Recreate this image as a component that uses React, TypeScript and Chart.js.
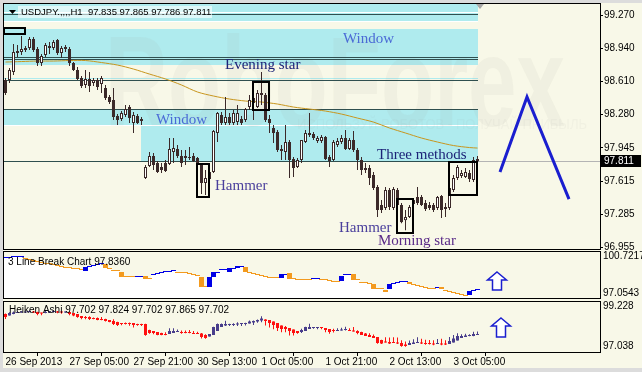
import React, { useEffect, useRef } from 'react';
import { Chart, registerables } from 'chart.js';

Chart.register(...registerables);

// ================= DATA =================
// USDJPY H1 candles (bar 0 = 26 Sep 2013 13:00)
const candleOpen = [
  98.623, 98.623, 98.702, 98.892, 98.902, 98.922, 98.942, 99.032, 98.932, 98.792,
  98.872, 98.942, 98.942, 99.022, 98.892, 98.932, 98.932, 98.792, 98.722, 98.643,
  98.573, 98.633, 98.593, 98.623, 98.583, 98.543, 98.453, 98.423, 98.263, 98.233,
  98.273, 98.353, 98.193, 98.263, 98.213, 97.645, 97.764, 97.864, 97.794, 97.754,
  97.794, 97.784, 97.904, 97.934, 97.864, 97.844, 97.844, 97.864, 97.844, 97.774,
  97.595, 97.635, 97.704, 98.094, 98.273, 98.193, 98.253, 98.193, 98.203, 98.233,
  98.223, 98.353, 98.393, 98.353, 98.473, 98.473, 98.233, 98.144, 98.104, 97.914,
  97.904, 98.004, 97.834, 97.754, 97.824, 98.004, 98.074, 98.084, 98.014, 98.014,
  98.054, 97.854, 97.824, 97.974, 98.004, 98.044, 97.934, 98.024, 97.924, 97.824,
  97.744, 97.744, 97.675, 97.555, 97.375, 97.345, 97.525, 97.345, 97.525, 97.375,
  97.225, 97.255, 97.385, 97.455, 97.455, 97.395, 97.375, 97.375, 97.345, 97.465,
  97.335, 97.345, 97.525, 97.645, 97.665, 97.655, 97.694, 97.625, 97.835,
];
const candleHigh = [
  98.643, 98.742, 98.982, 98.972, 99.062, 98.962, 99.052, 99.052, 98.952, 98.882,
  98.992, 99.002, 99.022, 99.032, 98.962, 98.972, 98.952, 98.802, 98.752, 98.662,
  98.722, 98.702, 98.643, 98.643, 98.662, 98.573, 98.473, 98.543, 98.283, 98.313,
  98.373, 98.373, 98.303, 98.283, 98.253, 97.774, 97.904, 97.894, 97.814, 97.794,
  97.824, 98.044, 98.044, 97.974, 97.924, 97.924, 97.954, 97.894, 97.854, 97.784,
  97.724, 97.724, 98.124, 98.303, 98.303, 98.453, 98.293, 98.323, 98.373, 98.263,
  98.343, 98.473, 98.473, 98.523, 98.702, 98.493, 98.273, 98.174, 98.124, 97.974,
  98.174, 98.024, 97.854, 97.844, 98.024, 98.124, 98.293, 98.104, 98.064, 98.074,
  98.064, 97.874, 98.024, 98.044, 98.074, 98.124, 98.044, 98.114, 97.944, 97.854,
  97.794, 97.774, 97.704, 97.575, 97.425, 97.555, 97.545, 97.555, 97.545, 97.395,
  97.325, 97.375, 97.445, 97.555, 97.475, 97.425, 97.405, 97.395, 97.465, 97.475,
  97.395, 97.565, 97.675, 97.774, 97.724, 97.744, 97.724, 97.854, 97.865,
];
const candleLow = [
  98.473, 98.593, 98.672, 98.852, 98.872, 98.902, 98.922, 98.902, 98.762, 98.762,
  98.852, 98.882, 98.922, 98.872, 98.842, 98.902, 98.762, 98.712, 98.623, 98.543,
  98.543, 98.503, 98.563, 98.523, 98.493, 98.423, 98.383, 98.223, 98.174, 98.213,
  98.253, 98.193, 98.094, 98.184, 98.174, 97.635, 97.754, 97.724, 97.694, 97.694,
  97.704, 97.774, 97.794, 97.844, 97.754, 97.774, 97.824, 97.804, 97.774, 97.485,
  97.475, 97.615, 97.694, 98.004, 98.174, 98.174, 98.174, 98.174, 98.174, 98.174,
  98.203, 98.323, 98.223, 98.343, 98.373, 98.203, 98.094, 97.994, 97.904, 97.824,
  97.824, 97.645, 97.655, 97.744, 97.794, 97.994, 98.054, 98.024, 97.994, 97.994,
  97.824, 97.754, 97.814, 97.954, 97.984, 97.924, 97.924, 97.904, 97.724, 97.675,
  97.694, 97.575, 97.525, 97.255, 97.295, 97.325, 97.325, 97.325, 97.335, 97.195,
  97.125, 97.245, 97.365, 97.375, 97.365, 97.315, 97.325, 97.305, 97.325, 97.245,
  97.255, 97.325, 97.505, 97.625, 97.645, 97.645, 97.605, 97.605, 97.786,
];
const candleClose = [
  98.493, 98.722, 98.902, 98.912, 98.932, 98.942, 99.032, 98.922, 98.792, 98.862,
  98.972, 98.962, 99.002, 98.892, 98.942, 98.952, 98.792, 98.722, 98.633, 98.563,
  98.633, 98.563, 98.623, 98.553, 98.643, 98.443, 98.403, 98.253, 98.223, 98.293,
  98.333, 98.243, 98.273, 98.193, 98.233, 97.754, 97.864, 97.774, 97.704, 97.724,
  97.714, 97.934, 97.944, 97.864, 97.794, 97.864, 97.854, 97.814, 97.794, 97.595,
  97.645, 97.704, 98.114, 98.293, 98.193, 98.253, 98.193, 98.293, 98.293, 98.193,
  98.333, 98.423, 98.443, 98.493, 98.493, 98.223, 98.193, 98.094, 97.924, 97.934,
  98.004, 97.824, 97.744, 97.824, 98.024, 98.094, 98.094, 98.044, 98.044, 98.054,
  97.834, 97.814, 98.004, 98.014, 98.044, 97.934, 98.024, 97.924, 97.824, 97.724,
  97.724, 97.645, 97.545, 97.325, 97.325, 97.525, 97.355, 97.535, 97.375, 97.205,
  97.255, 97.355, 97.425, 97.395, 97.375, 97.335, 97.345, 97.325, 97.455, 97.325,
  97.355, 97.545, 97.645, 97.754, 97.694, 97.704, 97.635, 97.824, 97.811,
];

// moving average, read every 4 bars
const maBars = [0, 4, 8, 12, 16, 20, 24, 28, 32, 36, 40, 44, 48, 52, 56, 60, 64, 68, 72, 76, 80, 84, 88, 92, 96, 100, 104, 108, 112, 116, 118];
const maValues = [98.802, 98.807, 98.812, 98.812, 98.817, 98.817, 98.797, 98.772, 98.732, 98.682, 98.633, 98.573, 98.503, 98.463, 98.433, 98.413, 98.403, 98.383, 98.353, 98.333, 98.313, 98.283, 98.243, 98.203, 98.144, 98.094, 98.044, 98.004, 97.969, 97.949, 97.944];

const priceTicks = [99.27, 98.94, 98.61, 98.28, 97.945, 97.615, 97.285, 96.955];
const lastPrice = 97.811;
const headerText = 'USDJPY.,,,,H1  97.835 97.865 97.786 97.811';

const timeTickBars = [0, 16, 32, 48, 64, 80, 96, 112];
const timeTickLabels = ['26 Sep 2013', '27 Sep 05:00', '27 Sep 21:00', '30 Sep 13:00', '1 Oct 05:00', '1 Oct 21:00', '2 Oct 13:00', '3 Oct 05:00'];

// forecast zigzag
const forecastBars = [123.625, 130.375, 140.875];
const forecastPrices = [97.704, 98.453, 97.435];

// "Window" zones and level lines
const zoneStartBar = [-0.375, -0.375, -0.375, -0.375, 33.875];
const zoneEndBar = [118.125, 118.125, 118.125, 118.125, 118.125];
const zoneTop = [99.381, 99.291, 99.132, 98.33, 98.159];
const zoneBottom = [99.301, 99.211, 98.772, 98.174, 97.814];
const gapTop = [99.301, 99.211, 98.174];
const gapBottom = [99.291, 99.201, 98.159];
const levelLines = [99.281, 98.849, 98.829, 98.623, 98.33, 97.814];

// candle pattern boxes
const boxStartBar = [-0.375, 61.875, 47.875, 97.875, 110.875];
const boxEndBar = [4.875, 65.875, 50.875, 101.875, 117.875];
const boxTop = [99.142, 98.603, 97.784, 97.435, 97.804];
const boxBottom = [99.082, 98.323, 97.455, 97.096, 97.475];

const labelText = ['Window', 'Evening star', 'Window', 'Three methods', 'Hammer', 'Hammer', 'Morning star'];
const labelBar = [84.375, 54.875, 37.625, 92.875, 52.375, 83.375, 93.125];
const labelPrice = [98.992, 98.732, 98.183, 97.834, 97.525, 97.106, 96.976];
const labelColor = ['#4a6ad6', '#1c2378', '#4a6ad6', '#1c2378', '#4a3f9c', '#4a3f9c', '#5a2a88'];

// 3 Line Break
const lbTitle = '3 Line Break Chart 97.8360';
const lbTicks = [100.7217, 97.0543];
const lbHigh = [
  100.623, 100.623, 100.722, 100.722, 100.722, 100.524, 100.424, 100.325, 100.226, 100.127,
  100.028, 100.028, 99.929, 99.83, 99.73, 99.631, 99.631, 99.532, 99.532, 99.433,
  99.631, 99.73, 99.83, 99.929, 100.028, 99.929, 99.532, 99.334, 99.334, 99.136,
  98.739, 98.739, 98.739, 98.739, 98.739, 98.739, 98.541, 98.937, 99.037, 99.136,
  99.235, 99.235, 99.334, 99.136, 99.136, 99.136, 99.037, 98.937, 98.838, 98.64,
  97.748, 98.64, 99.136, 99.136, 99.433, 99.433, 99.532, 99.532, 99.73, 99.73,
  99.631, 99.136, 99.037, 98.937, 98.838, 98.739, 98.64, 98.64, 98.64, 98.937,
  98.937, 99.037, 98.541, 98.442, 98.442, 98.442, 98.442, 98.541, 98.541, 98.442,
  98.442, 98.343, 98.243, 98.243, 98.739, 98.937, 98.937, 98.937, 98.442, 98.144,
  98.144, 98.045, 97.946, 97.55, 97.55, 97.351, 97.946, 98.045, 98.144, 98.243,
  98.243, 98.144, 97.946, 97.847, 97.748, 97.649, 97.55, 97.55, 97.649, 97.649,
  97.351, 97.252, 97.153, 97.054, 96.955, 96.856, 97.252, 97.351, 97.45,
];
const lbLow = [
  100.524, 100.524, 100.623, 100.623, 100.623, 100.424, 100.325, 100.226, 100.127, 100.028,
  99.929, 99.929, 99.83, 99.73, 99.631, 99.532, 99.532, 99.433, 99.433, 99.334,
  99.235, 99.631, 99.73, 99.83, 99.929, 99.532, 99.433, 99.235, 99.235, 98.64,
  98.64, 98.64, 98.64, 98.64, 98.64, 98.442, 98.442, 98.838, 98.937, 99.037,
  99.136, 99.136, 99.235, 99.037, 99.037, 99.037, 98.937, 98.838, 98.739, 97.649,
  97.649, 97.649, 98.64, 99.037, 99.334, 99.334, 99.136, 99.433, 99.532, 99.631,
  99.136, 99.037, 98.937, 98.838, 98.739, 98.64, 98.541, 98.541, 98.541, 98.541,
  98.838, 98.442, 98.442, 98.343, 98.343, 98.343, 98.343, 98.442, 98.442, 98.343,
  98.343, 98.243, 98.144, 98.144, 98.243, 98.838, 98.838, 98.343, 98.343, 98.045,
  98.045, 97.946, 97.45, 97.45, 97.45, 97.153, 97.45, 97.946, 98.045, 98.144,
  98.144, 97.946, 97.847, 97.748, 97.649, 97.55, 97.45, 97.45, 97.55, 97.45,
  97.252, 97.153, 97.054, 96.955, 96.856, 96.757, 96.856, 97.252, 97.351,
];
const lbDir = [
  1, 1, 1, 1, 1, -1, -1, -1, -1, -1,
  -1, -1, -1, -1, -1, -1, -1, -1, -1, -1,
  1, 1, 1, 1, 1, -1, -1, -1, -1, -1,
  -1, -1, -1, 1, 1, -1, -1, 1, 1, 1,
  1, 1, 1, -1, -1, -1, -1, -1, -1, -1,
  -1, 1, 1, 1, 1, 1, 1, 1, 1, 1,
  -1, -1, -1, -1, -1, -1, -1, -1, -1, 1,
  1, -1, -1, -1, -1, -1, -1, 1, 1, -1,
  -1, -1, -1, -1, 1, 1, 1, -1, -1, -1,
  -1, -1, -1, -1, -1, -1, 1, 1, 1, 1,
  1, -1, -1, -1, -1, -1, -1, -1, 1, -1,
  -1, -1, -1, -1, -1, -1, 1, 1, 1,
];

// Heiken Ashi
const haTitle = 'Heiken Ashi 97.702 97.824 97.702 97.865 97.702';
const haTicks = [99.228, 97.038];
const haOpen = [
  98.829, 98.747, 98.829, 98.883, 98.911, 98.911, 98.938, 98.966, 98.938, 98.883,
  98.883, 98.911, 98.938, 98.966, 98.938, 98.911, 98.938, 98.883, 98.829, 98.719,
  98.664, 98.664, 98.61, 98.61, 98.555, 98.555, 98.5, 98.445, 98.391, 98.336,
  98.336, 98.336, 98.336, 98.281, 98.281, 98.281, 97.953, 97.898, 97.843, 97.788,
  97.734, 97.734, 97.788, 97.843, 97.843, 97.816, 97.816, 97.788, 97.788, 97.761,
  97.679, 97.597, 97.679, 97.898, 98.117, 98.199, 98.226, 98.226, 98.254, 98.281,
  98.281, 98.308, 98.363, 98.418, 98.473, 98.528, 98.5, 98.418, 98.336, 98.199,
  98.117, 98.062, 97.98, 97.898, 97.843, 97.898, 98.007, 98.062, 98.062, 98.089,
  98.062, 98.007, 97.925, 97.898, 97.925, 97.953, 97.953, 97.925, 97.898, 97.843,
  97.761, 97.679, 97.624, 97.569, 97.405, 97.295, 97.295, 97.268, 97.241, 97.241,
  97.158, 97.131, 97.186, 97.241, 97.241, 97.241, 97.213, 97.186, 97.186, 97.213,
  97.186, 97.186, 97.268, 97.378, 97.514, 97.569, 97.624, 97.624, 97.679,
];
const haClose = [
  98.664, 98.883, 98.911, 98.911, 98.938, 98.938, 98.966, 98.911, 98.829, 98.856,
  98.938, 98.938, 98.966, 98.911, 98.911, 98.938, 98.829, 98.747, 98.664, 98.61,
  98.61, 98.555, 98.555, 98.5, 98.5, 98.445, 98.391, 98.281, 98.226, 98.281,
  98.281, 98.281, 98.226, 98.226, 98.226, 97.679, 97.788, 97.788, 97.679, 97.679,
  97.679, 97.898, 97.898, 97.87, 97.788, 97.788, 97.788, 97.734, 97.734, 97.569,
  97.514, 97.734, 98.117, 98.281, 98.281, 98.281, 98.281, 98.281, 98.308, 98.308,
  98.336, 98.418, 98.445, 98.5, 98.582, 98.445, 98.336, 98.226, 98.062, 98.007,
  98.007, 97.898, 97.788, 97.788, 97.953, 98.117, 98.117, 98.089, 98.089, 98.062,
  97.953, 97.843, 97.898, 97.953, 97.98, 97.98, 97.898, 97.87, 97.788, 97.679,
  97.624, 97.569, 97.514, 97.241, 97.213, 97.268, 97.213, 97.241, 97.213, 97.076,
  97.076, 97.241, 97.268, 97.268, 97.213, 97.186, 97.186, 97.158, 97.241, 97.158,
  97.158, 97.35, 97.487, 97.624, 97.624, 97.651, 97.651, 97.734, 97.702,
];
const haHigh = [
  98.85, 98.92, 98.96, 98.95, 98.99, 98.96, 99.03, 98.99, 98.95, 98.9,
  98.99, 98.99, 99.02, 99.0, 98.96, 98.97, 98.95, 98.89, 98.83, 98.72,
  98.72, 98.7, 98.64, 98.64, 98.66, 98.57, 98.5, 98.54, 98.4, 98.34,
  98.37, 98.37, 98.34, 98.29, 98.29, 98.29, 97.96, 97.9, 97.85, 97.8,
  97.824, 98.044, 98.044, 97.974, 97.924, 97.924, 97.954, 97.894, 97.854, 97.784,
  97.724, 97.734, 98.124, 98.303, 98.303, 98.453, 98.293, 98.323, 98.373, 98.31,
  98.343, 98.473, 98.473, 98.523, 98.702, 98.54, 98.5, 98.418, 98.336, 98.199,
  98.174, 98.062, 97.98, 97.898, 98.024, 98.124, 98.293, 98.104, 98.09, 98.09,
  98.064, 98.007, 98.024, 98.044, 98.074, 98.124, 98.044, 98.114, 97.944, 97.854,
  97.794, 97.774, 97.704, 97.575, 97.425, 97.555, 97.545, 97.555, 97.545, 97.395,
  97.325, 97.375, 97.445, 97.555, 97.475, 97.425, 97.405, 97.395, 97.465, 97.475,
  97.395, 97.565, 97.675, 97.774, 97.724, 97.744, 97.724, 97.854, 97.865,
];
const haLow = [
  98.56, 98.74, 98.82, 98.88, 98.9, 98.9, 98.93, 98.88, 98.76, 98.76,
  98.87, 98.88, 98.93, 98.87, 98.84, 98.9, 98.76, 98.71, 98.62, 98.54,
  98.54, 98.5, 98.54, 98.49, 98.49, 98.42, 98.38, 98.22, 98.17, 98.21,
  98.25, 98.19, 98.09, 98.18, 98.17, 97.635, 97.754, 97.724, 97.67, 97.67,
  97.67, 97.734, 97.788, 97.843, 97.754, 97.774, 97.78, 97.73, 97.73, 97.485,
  97.475, 97.597, 97.679, 97.898, 98.117, 98.174, 98.174, 98.174, 98.174, 98.174,
  98.203, 98.308, 98.223, 98.343, 98.373, 98.203, 98.094, 97.994, 97.904, 97.824,
  97.824, 97.645, 97.655, 97.744, 97.794, 97.898, 98.007, 98.024, 97.994, 97.994,
  97.824, 97.754, 97.814, 97.898, 97.925, 97.924, 97.898, 97.87, 97.724, 97.675,
  97.624, 97.569, 97.514, 97.2, 97.18, 97.268, 97.19, 97.241, 97.19, 97.04,
  97.04, 97.131, 97.186, 97.241, 97.18, 97.15, 97.16, 97.12, 97.186, 97.12,
  97.13, 97.186, 97.268, 97.378, 97.514, 97.569, 97.605, 97.605, 97.679,
];

// up arrows in the indicator windows
const lbArrowBar = 122.875;
const lbArrowTop = 99.136;
const lbArrowBottom = 97.351;
const haArrowBar = 123.875;
const haArrowTop = 98.61;
const haArrowBottom = 97.569;

// ================= STYLE =================
const SANS = '"Liberation Sans", Arial, sans-serif';
const SERIF = '"Liberation Serif", "Times New Roman", serif';
const CREAM = '#f8f8e8';
const CYAN = '#afebee';
const CANDLE = '#3b2929';
const MA_COLOR = '#c8961e';
const LEVEL = '#2f4f4f';
const FORECAST = '#1a1ecf';
const LB_UP = '#0000e6';
const LB_DOWN = '#f39a1e';
const HA_UP = '#483d8b';
const HA_DOWN = '#ff1010';
const X_MIN = -0.375;
const X_MAX = 148.625;
const BAR_END = 118.125;

function hiddenX(): any {
  return { type: 'linear', min: X_MIN, max: X_MAX, offset: false, display: false };
}

function rightY(min: number, max: number, ticks: number[], decimals: number, tickLen: number): any {
  return {
    type: 'linear',
    position: 'right',
    min,
    max,
    afterBuildTicks: (s: any) => {
      s.ticks = ticks.map((v) => ({ value: v }));
    },
    afterFit: (s: any) => {
      s.width = 42;
      s.paddingTop = 0;
      s.paddingBottom = 0;
    },
    ticks: {
      autoSkip: false,
      padding: tickLen ? 1 : 3,
      color: '#000',
      font: { family: SANS, size: 10 },
      callback: (v: any) => Number(v).toFixed(decimals),
    },
    grid: { drawOnChartArea: false, drawTicks: tickLen > 0, tickLength: tickLen, color: '#000' },
    border: { display: false },
  };
}

function fillArea(chart: any) {
  const { ctx, chartArea: a } = chart;
  ctx.save();
  ctx.fillStyle = CREAM;
  ctx.fillRect(a.left, a.top, a.right - a.left, a.bottom - a.top);
  ctx.restore();
}

function frame(chart: any) {
  const { ctx, chartArea: a } = chart;
  ctx.save();
  ctx.strokeStyle = '#000';
  ctx.lineWidth = 1;
  ctx.strokeRect(a.left - 0.5, a.top - 0.5, a.right - a.left + 1, a.bottom - a.top + 1);
  ctx.restore();
}

function upArrow(ctx: any, cx: number, top: number, bottom: number) {
  const headH = 8;
  const headW = 9.5;
  const shaftW = 4.5;
  ctx.save();
  ctx.beginPath();
  ctx.moveTo(cx, top);
  ctx.lineTo(cx + headW, top + headH);
  ctx.lineTo(cx + shaftW, top + headH);
  ctx.lineTo(cx + shaftW, bottom);
  ctx.lineTo(cx - shaftW, bottom);
  ctx.lineTo(cx - shaftW, top + headH);
  ctx.lineTo(cx - headW, top + headH);
  ctx.closePath();
  ctx.fillStyle = '#ffffff';
  ctx.fill();
  ctx.strokeStyle = '#1a1ecf';
  ctx.lineWidth = 1.5;
  ctx.stroke();
  ctx.restore();
}

const mainDecor = {
  id: 'mainDecor',
  beforeDraw(chart: any) {
    fillArea(chart);
  },
  beforeDatasetsDraw(chart: any) {
    const { ctx, chartArea: a, scales } = chart;
    const x = scales.x;
    const y = scales.y;
    ctx.save();
    ctx.beginPath();
    ctx.rect(a.left, a.top, a.right - a.left, a.bottom - a.top);
    ctx.clip();
    const band = (b0: number, b1: number, p0: number, p1: number, color: string) => {
      const x0 = Math.round(x.getPixelForValue(b0));
      const x1 = Math.round(x.getPixelForValue(b1));
      const y0 = Math.round(y.getPixelForValue(p0));
      const y1 = Math.round(y.getPixelForValue(p1));
      ctx.fillStyle = color;
      ctx.fillRect(x0, y0, x1 - x0, Math.max(1, y1 - y0));
    };
    zoneTop.forEach((t, i) => band(zoneStartBar[i], zoneEndBar[i], t, zoneBottom[i], CYAN));
    gapTop.forEach((t, i) => band(X_MIN, BAR_END, t, gapBottom[i], '#ffffff'));
    band(X_MIN, BAR_END, 98.643, 98.628, CYAN);

    // watermark
    ctx.save();
    ctx.fillStyle = 'rgba(160,160,150,0.085)';
    ctx.font = `bold 128px ${SANS}`;
    ctx.textBaseline = 'alphabetic';
    const w = ctx.measureText('RoboForex').width;
    ctx.translate(105, 126);
    ctx.scale(460 / w, 1);
    ctx.fillText('RoboForex', 0, 0);
    ctx.restore();
    ctx.save();
    ctx.fillStyle = 'rgba(160,160,150,0.07)';
    ctx.font = `14px ${SANS}`;
    const t2 = 'ИСПОЛЬЗУЙ РОБОТОВ - ПОЛУЧАЙ ПРИБЫЛЬ';
    const w2 = ctx.measureText(t2).width;
    ctx.translate(297, 129);
    ctx.scale(290 / w2, 1);
    ctx.fillText(t2, 0, 0);
    ctx.restore();

    // current price line
    const py = Math.round(y.getPixelForValue(lastPrice)) + 0.5;
    ctx.strokeStyle = '#b4b4b4';
    ctx.lineWidth = 1;
    ctx.beginPath();
    ctx.moveTo(a.left, py);
    ctx.lineTo(a.right, py);
    ctx.stroke();

    // level lines
    ctx.strokeStyle = LEVEL;
    const xe = x.getPixelForValue(BAR_END);
    levelLines.forEach((p) => {
      const yy = Math.round(y.getPixelForValue(p)) + 0.5;
      ctx.beginPath();
      ctx.moveTo(a.left, yy);
      ctx.lineTo(xe, yy);
      ctx.stroke();
    });
    ctx.restore();
  },
  afterDatasetsDraw(chart: any) {
    const { ctx, chartArea: a, scales } = chart;
    const x = scales.x;
    const y = scales.y;
    ctx.save();
    ctx.beginPath();
    ctx.rect(a.left, a.top, a.right - a.left, a.bottom - a.top);
    ctx.clip();
    ctx.strokeStyle = '#000';
    ctx.lineWidth = 2;
    boxTop.forEach((t, i) => {
      const x0 = Math.round(x.getPixelForValue(boxStartBar[i]));
      const x1 = Math.round(x.getPixelForValue(boxEndBar[i]));
      const y0 = Math.round(y.getPixelForValue(t));
      const y1 = Math.round(y.getPixelForValue(boxBottom[i]));
      ctx.strokeRect(x0, y0, x1 - x0, y1 - y0);
    });
    ctx.font = `15px ${SERIF}`;
    ctx.textBaseline = 'alphabetic';
    ctx.textAlign = 'left';
    labelText.forEach((t, i) => {
      ctx.fillStyle = labelColor[i];
      ctx.fillText(t, x.getPixelForValue(labelBar[i]), y.getPixelForValue(labelPrice[i]));
    });
    // header
    ctx.fillStyle = 'rgba(255,255,255,0.6)';
    ctx.fillRect(18, 6, 194, 12);
    ctx.fillStyle = '#000';
    ctx.font = `9.5px ${SANS}`;
    ctx.textBaseline = 'middle';
    ctx.fillText(headerText, 21, 12.5);
    ctx.beginPath();
    ctx.moveTo(9, 10);
    ctx.lineTo(16, 10);
    ctx.lineTo(12.5, 14);
    ctx.closePath();
    ctx.fill();
    // shift marker
    const sx = x.getPixelForValue(BAR_END);
    ctx.fillStyle = '#a8a8a8';
    ctx.beginPath();
    ctx.moveTo(sx - 2, 4);
    ctx.lineTo(sx + 6, 4);
    ctx.lineTo(sx + 2, 9);
    ctx.closePath();
    ctx.fill();
    ctx.restore();

    frame(chart);
    // last price tag
    const py = Math.round(y.getPixelForValue(lastPrice));
    ctx.save();
    ctx.fillStyle = '#000';
    ctx.fillRect(a.right + 1, py - 6, 40, 12);
    ctx.fillStyle = '#fff';
    ctx.font = `10px ${SANS}`;
    ctx.textBaseline = 'middle';
    ctx.textAlign = 'left';
    ctx.fillText(lastPrice.toFixed(3), a.right + 4, py + 0.5);
    ctx.restore();
  },
};

const lbDecor = {
  id: 'lbDecor',
  beforeDraw(chart: any) {
    fillArea(chart);
  },
  afterDatasetsDraw(chart: any) {
    const { ctx, scales } = chart;
    ctx.save();
    ctx.fillStyle = '#000';
    ctx.font = `10px ${SANS}`;
    ctx.textBaseline = 'middle';
    ctx.fillText(lbTitle, 8, 12.5);
    ctx.restore();
    upArrow(ctx, scales.x.getPixelForValue(lbArrowBar), scales.y.getPixelForValue(lbArrowTop), scales.y.getPixelForValue(lbArrowBottom));
    frame(chart);
  },
};

const haDecor = {
  id: 'haDecor',
  beforeDraw(chart: any) {
    fillArea(chart);
  },
  afterDatasetsDraw(chart: any) {
    const { ctx, scales } = chart;
    ctx.save();
    ctx.fillStyle = '#000';
    ctx.font = `10px ${SANS}`;
    ctx.textBaseline = 'middle';
    ctx.fillText(haTitle, 9, 10.5);
    ctx.restore();
    upArrow(ctx, scales.x.getPixelForValue(haArrowBar), scales.y.getPixelForValue(haArrowTop), scales.y.getPixelForValue(haArrowBottom));
    frame(chart);
  },
};

const baseOptions = {
  responsive: false,
  animation: false,
  devicePixelRatio: 1,
  events: [],
  plugins: { legend: { display: false }, tooltip: { enabled: false } },
};

function mainConfig(): any {
  const idx = candleOpen.map((_, i) => i);
  return {
    type: 'bar',
    data: {
      datasets: [
        {
          type: 'line',
          data: forecastBars.map((b, i) => ({ x: b, y: forecastPrices[i] })),
          borderColor: FORECAST,
          borderWidth: 3,
          pointRadius: 0,
          borderJoinStyle: 'miter',
          order: 0,
        },
        {
          type: 'bar',
          data: idx.map((i) => ({ x: i, y: [candleOpen[i], candleClose[i]] })),
          backgroundColor: idx.map((i) => (candleClose[i] >= candleOpen[i] ? '#ffffff' : CANDLE)),
          borderColor: CANDLE,
          borderWidth: 1,
          borderSkipped: false,
          barThickness: 3,
          grouped: false,
          inflateAmount: 0,
          minBarLength: 1,
          order: 1,
        },
        {
          type: 'bar',
          data: idx.map((i) => ({ x: i, y: [candleLow[i], candleHigh[i]] })),
          backgroundColor: CANDLE,
          borderWidth: 0,
          barThickness: 1,
          grouped: false,
          inflateAmount: 0,
          order: 2,
        },
        {
          type: 'line',
          data: maBars.map((b, i) => ({ x: b, y: maValues[i] })),
          borderColor: MA_COLOR,
          borderWidth: 1,
          pointRadius: 0,
          tension: 0.3,
          order: 3,
        },
      ],
    },
    options: {
      ...baseOptions,
      layout: { autoPadding: false, padding: { left: 4, top: 4, right: 0, bottom: 3 } },
      scales: {
        x: hiddenX(),
        y: rightY(96.937, 99.381, priceTicks, 3, 3),
      },
    },
    plugins: [mainDecor],
  };
}

function lbConfig(): any {
  const idx = lbHigh.map((_, i) => i);
  const floor = 96.559;
  return {
    type: 'bar',
    data: {
      datasets: [
        {
          type: 'bar',
          data: idx.map((i) => ({ x: i, y: [lbLow[i], lbHigh[i]] })),
          backgroundColor: idx.map((i) => (lbDir[i] > 0 ? LB_UP : LB_DOWN)),
          borderWidth: 0,
          barThickness: 5,
          grouped: false,
          inflateAmount: 0,
          order: 1,
        },
        {
          type: 'bar',
          data: idx.map((i) => ({ x: i, y: [floor, lbLow[i]] })),
          backgroundColor: '#ffffff',
          borderWidth: 0,
          barThickness: 5,
          grouped: false,
          inflateAmount: 0,
          order: 2,
        },
      ],
    },
    options: {
      ...baseOptions,
      layout: { autoPadding: false, padding: { left: 4, top: 2, right: 0, bottom: 2 } },
      scales: {
        x: hiddenX(),
        y: rightY(floor, 101.118, lbTicks, 4, 0),
      },
    },
    plugins: [lbDecor],
  };
}

function haConfig(): any {
  const idx = haOpen.map((_, i) => i);
  const colors = idx.map((i) => (haClose[i] >= haOpen[i] ? HA_UP : HA_DOWN));
  return {
    type: 'bar',
    data: {
      datasets: [
        {
          type: 'bar',
          data: idx.map((i) => ({ x: i, y: [haOpen[i], haClose[i]] })),
          backgroundColor: colors,
          borderWidth: 0,
          barThickness: 3,
          grouped: false,
          inflateAmount: 0,
          minBarLength: 1,
          order: 1,
        },
        {
          type: 'bar',
          data: idx.map((i) => ({ x: i, y: [haLow[i], haHigh[i]] })),
          backgroundColor: colors,
          borderWidth: 0,
          barThickness: 1,
          grouped: false,
          inflateAmount: 0,
          order: 2,
        },
      ],
    },
    options: {
      ...baseOptions,
      layout: { autoPadding: false, padding: { left: 4, top: 2, right: 0, bottom: 0 } },
      scales: {
        x: {
          type: 'linear',
          min: X_MIN,
          max: X_MAX,
          offset: false,
          position: 'bottom',
          afterBuildTicks: (s: any) => {
            s.ticks = timeTickBars.map((v) => ({ value: v }));
          },
          afterFit: (s: any) => {
            s.height = 20;
            s.paddingLeft = 0;
            s.paddingRight = 0;
          },
          ticks: {
            autoSkip: false,
            maxRotation: 0,
            minRotation: 0,
            align: 'start',
            padding: 0,
            color: '#000',
            font: { family: SANS, size: 10 },
            callback: (_v: any, i: number) => timeTickLabels[i],
          },
          grid: { drawOnChartArea: false, drawTicks: true, tickLength: 4, color: '#000' },
          border: { display: false },
        },
        y: rightY(96.748, 99.486, haTicks, 3, 0),
      },
    },
    plugins: [haDecor],
  };
}

function Panel({ top, height, make }: { top: number; height: number; make: () => any }) {
  const ref = useRef<HTMLCanvasElement>(null);
  useEffect(() => {
    const chart = new Chart(ref.current as HTMLCanvasElement, make());
    return () => chart.destroy();
  }, []);
  return (
    <canvas
      ref={ref}
      width={642}
      height={height}
      style={{ position: 'absolute', left: 0, top, width: 642, height, display: 'block' }}
    />
  );
}

export default function App() {
  return (
    <div style={{ position: 'fixed', left: 0, top: 0, width: 642, height: 372, background: '#dcdcdc', overflow: 'hidden' }}>
      <div style={{ position: 'absolute', left: 3, top: 3, width: 639, height: 365, background: CREAM }} />
      <Panel top={0} height={252} make={mainConfig} />
      <Panel top={250} height={50} make={lbConfig} />
      <Panel top={300} height={72} make={haConfig} />
    </div>
  );
}
